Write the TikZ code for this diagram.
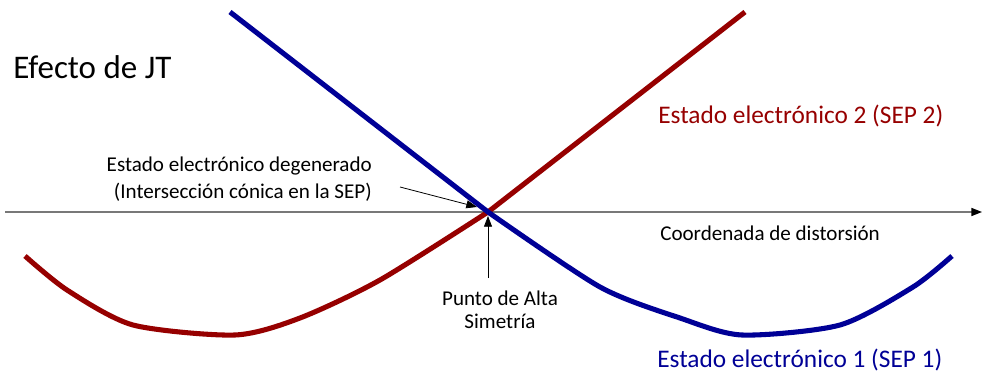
\documentclass[tikz,border=0pt]{standalone}
\usepackage{fontspec}
\setmainfont{Carlito}
\usetikzlibrary{arrows.meta}
\definecolor{sepred}{RGB}{150,0,0}
\definecolor{sepblue}{RGB}{0,0,150}
\definecolor{axisgray}{RGB}{120,120,120}
\tikzset{
  curve/.style={line width=3.8pt},
  lbl/.style={inner sep=0pt, font=\fontsize{15.8}{19}\selectfont},
  big/.style={inner sep=0pt, font=\fontsize{19}{23}\selectfont},
  pointer/.style={draw=black, line width=0.6pt, -{Triangle[length=8pt,width=6pt]}},
}
\begin{document}
\begin{tikzpicture}[x=0.75pt,y=-0.75pt]
\useasboundingbox (0,0) rectangle (982,374);
% axis
\coordinate (axL) at (5,212);
\coordinate (axR) at (982,212);
\draw[axisgray, line width=1.1pt, -{Triangle[length=8pt,width=6pt,fill=black,color=black]}] (axL) -- (axR);
\coordinate (X) at (488,212);
% curves
\draw[curve, sepred, line join=round] plot[smooth, tension=0.45] coordinates {(25,256) (67,290) (133,325) (235,335) (300,318) (380,280) (X)} -- (745,12);
\draw[curve, sepblue, line join=round] (230,12) -- (X) plot[smooth, tension=0.45] coordinates {(X) (600,287) (680,318) (742,335) (840,325) (913,287) (952,256)};
% texts
\node[inner sep=0pt, anchor=base west, font=\fontsize{24.75}{30}\selectfont] (title) at (13,79) {Efecto de JT};
\node[big, anchor=base west, text=sepred] (s2) at (658,124) {Estado electrónico 2 (SEP 2)};
\node[big, anchor=base west, text=sepblue] (s1) at (657,367) {Estado electrónico 1 (SEP 1)};
\node[lbl, anchor=base west] (coord) at (660,240) {Coordenada de distorsión};
\node[lbl, anchor=base east] (deg1) at (372,172) {Estado electrónico degenerado};
\node[lbl, anchor=base east] (deg2) at (372,199) {(Intersección cónica en la SEP)};
\node[lbl, anchor=base] (pa1) at (500,305) {Punto de Alta};
\node[lbl, anchor=base] (pa2) at (500,328) {Simetría};
% pointers
\coordinate (degS) at (400,187);
\coordinate (degE) at (477,207);
\coordinate (paS) at (488,278);
\coordinate (paE) at (488,216);
\draw[pointer] (degS) -- (degE);
\draw[pointer] (paS) -- (paE);
\end{tikzpicture}
\end{document}
